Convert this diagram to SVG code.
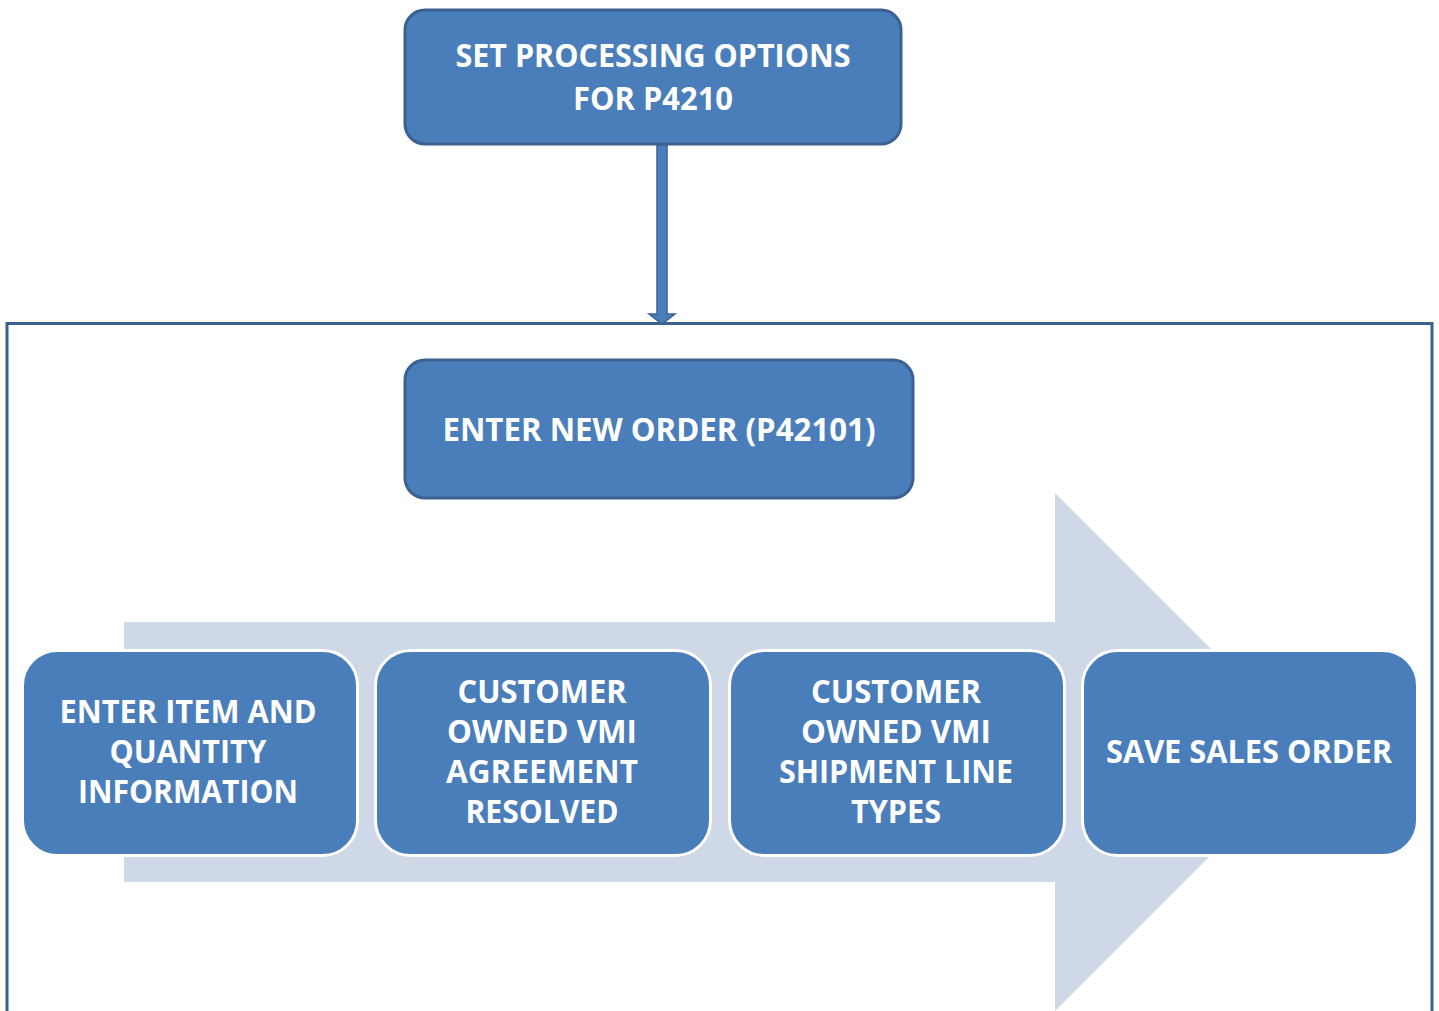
<svg xmlns="http://www.w3.org/2000/svg" width="1439" height="1011" viewBox="0 0 1439 1011">
<style>
.t{font-family:"Open Sans","Liberation Sans",sans-serif;font-weight:700;font-size:32px;fill:#ffffff;text-anchor:middle}
.top{fill:#4a7ebb;stroke:#3a6190;stroke-width:3}
.step{fill:#4a7ebb;stroke:#ffffff;stroke-width:3}
</style>
<rect x="0" y="0" width="1439" height="1011" fill="#ffffff"/>
<g id="container">
<rect x="7" y="323.5" width="1425" height="700" fill="#ffffff" stroke="#3a6190" stroke-width="3"/>
</g>
<g id="big-arrow">
<polygon points="124,622 1055,622 1055,493 1314,752 1055,1011 1055,882 124,882" fill="#cfd8e6"/>
</g>
<g id="connectors">
<polygon points="657,145 667,145 667,314 675,314 662,324 649,314 657,314" fill="#4a7ebb" stroke="#3a6190" stroke-width="1.5"/>
</g>
<g id="node-set-options">
<rect class="top" x="405" y="10" width="496" height="134" rx="20"/>
<text class="t" x="653" y="67" textLength="395" lengthAdjust="spacingAndGlyphs">SET PROCESSING OPTIONS</text>
<text class="t" x="653" y="110" textLength="160" lengthAdjust="spacingAndGlyphs">FOR P4210</text>
</g>
<g id="node-enter-new-order">
<rect class="top" x="405" y="360" width="508" height="138" rx="20"/>
<text class="t" x="659" y="441" textLength="433" lengthAdjust="spacingAndGlyphs">ENTER NEW ORDER (P42101)</text>
</g>
<g id="node-enter-item">
<rect class="step" x="22.5" y="650.5" width="335" height="205" rx="35"/>
<text class="t" x="188" y="723" textLength="257" lengthAdjust="spacingAndGlyphs">ENTER ITEM AND</text>
<text class="t" x="188" y="763" textLength="157" lengthAdjust="spacingAndGlyphs">QUANTITY</text>
<text class="t" x="188" y="803" textLength="220" lengthAdjust="spacingAndGlyphs">INFORMATION</text>
</g>
<g id="node-agreement">
<rect class="step" x="375.5" y="650.5" width="335" height="205" rx="35"/>
<text class="t" x="542" y="703" textLength="169" lengthAdjust="spacingAndGlyphs">CUSTOMER</text>
<text class="t" x="542" y="743" textLength="190" lengthAdjust="spacingAndGlyphs">OWNED VMI</text>
<text class="t" x="542" y="783" textLength="192" lengthAdjust="spacingAndGlyphs">AGREEMENT</text>
<text class="t" x="542" y="823" textLength="153" lengthAdjust="spacingAndGlyphs">RESOLVED</text>
</g>
<g id="node-shipment">
<rect class="step" x="729.5" y="650.5" width="335" height="205" rx="35"/>
<text class="t" x="896" y="703" textLength="170" lengthAdjust="spacingAndGlyphs">CUSTOMER</text>
<text class="t" x="896" y="743" textLength="190" lengthAdjust="spacingAndGlyphs">OWNED VMI</text>
<text class="t" x="896" y="783" textLength="234" lengthAdjust="spacingAndGlyphs">SHIPMENT LINE</text>
<text class="t" x="896" y="823" textLength="90" lengthAdjust="spacingAndGlyphs">TYPES</text>
</g>
<g id="node-save">
<rect class="step" x="1082.5" y="650.5" width="335" height="205" rx="35"/>
<text class="t" x="1249" y="763" textLength="286" lengthAdjust="spacingAndGlyphs">SAVE SALES ORDER</text>
</g>
</svg>
